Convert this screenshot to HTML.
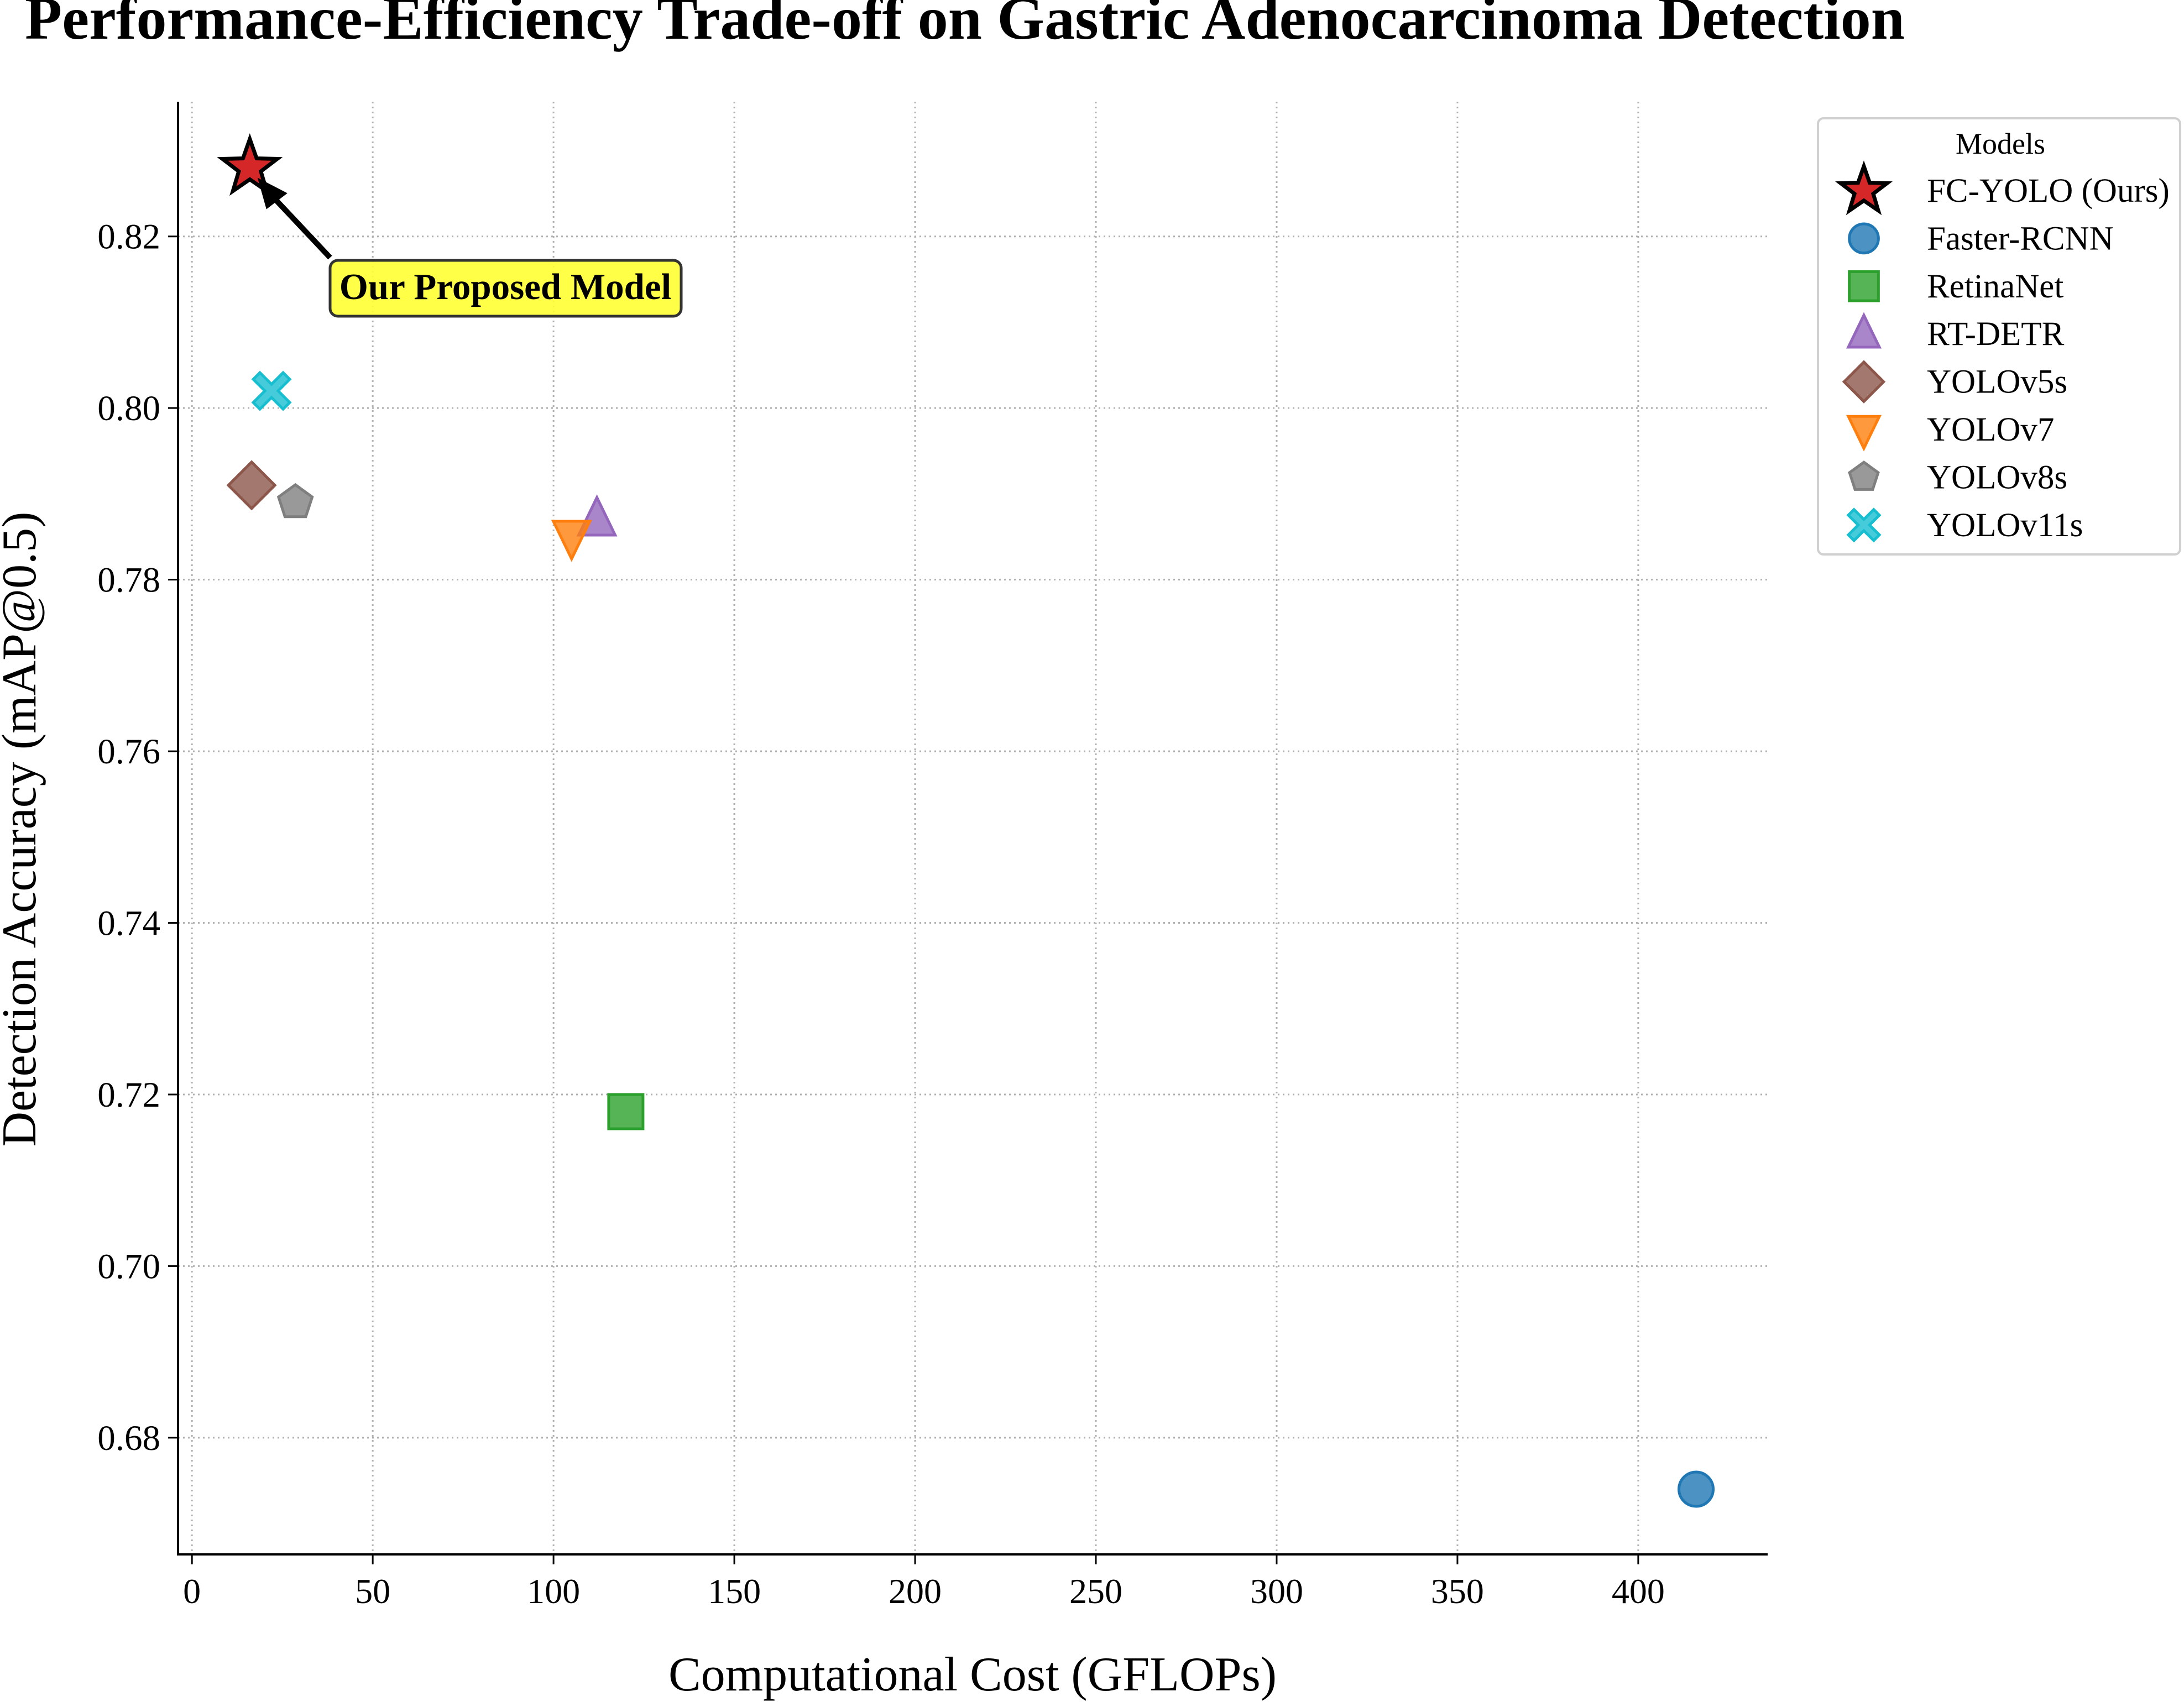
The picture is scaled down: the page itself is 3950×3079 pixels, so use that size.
<!DOCTYPE html>
<html><head><meta charset="utf-8"><style>html,body{margin:0;padding:0;background:#fff}svg{display:block}text{font-family:"Liberation Serif",serif}</style></head>
<body>
<svg id="chart" width="3950" height="3079" viewBox="0 0 3950 3079" xmlns="http://www.w3.org/2000/svg">
<text x="45" y="70" font-size="110" font-weight="bold">Performance-Efficiency Trade-off on Gastric Adenocarcinoma Detection</text>
<g id="grid"></g><g id="axes"></g><g id="marks"></g><g id="legend"></g>
</svg>
<script>
const models = ["FC-YOLO (Ours)","Faster-RCNN","RetinaNet","RT-DETR","YOLOv5s","YOLOv7","YOLOv8s","YOLOv11s"];
const gflops = [16, 416, 120, 112, 16.5, 105, 28.6, 22];
const map50 = [0.828, 0.674, 0.718, 0.787, 0.791, 0.785, 0.789, 0.802];
const shapes = ["star","circle","square","tri","diamond","tridown","pent","x"];
const colors = ["#d62728","#1f77b4","#2ca02c","#9467bd","#8c564b","#ff7f0e","#7f7f7f","#17becf"];
const xTicks = [0,50,100,150,200,250,300,350,400];
const yTicks = [0.68,0.70,0.72,0.74,0.76,0.78,0.80,0.82];

const NS="http://www.w3.org/2000/svg";
const L=322,R=3197,T=184,B=2812;
const xMin=-3.85,xMax=435.8,yMin=0.6664,yMax=0.8357;
const sx=v=>L+(v-xMin)/(xMax-xMin)*(R-L);
const sy=v=>B-(v-yMin)/(yMax-yMin)*(B-T);
function mk(tag,attrs,parent){const e=document.createElementNS(NS,tag);for(const k in attrs)e.setAttribute(k,attrs[k]);parent.appendChild(e);return e;}
const grid=document.getElementById('grid'),axes=document.getElementById('axes'),marks=document.getElementById('marks'),legend=document.getElementById('legend');

xTicks.forEach(t=>{
  const x=sx(t);
  const g=mk('line',{x1:x,x2:x,y1:T,y2:B,stroke:'#b0b0b0','stroke-width':3,'stroke-dasharray':'3,6'},grid);
  
  
  const tk=mk('line',{x1:x,x2:x,y1:B,y2:B+18,stroke:'#000','stroke-width':3},axes);
  
  
  const lb=mk('text',{x:x,y:B+88,'font-size':64,'text-anchor':'middle'},axes);
  lb.textContent=t;
  
  
});
yTicks.forEach(t=>{
  const y=sy(t);
  const g=mk('line',{x1:L,x2:R,y1:y,y2:y,stroke:'#b0b0b0','stroke-width':3,'stroke-dasharray':'3,6'},grid);
  
  
  const tk=mk('line',{x1:L-18,x2:L,y1:y,y2:y,stroke:'#000','stroke-width':3},axes);
  
  
  const lb=mk('text',{x:L-32,y:y+22,'font-size':65,'text-anchor':'end'},axes);
  lb.textContent=t.toFixed(2);
  
  
});
const sp1=mk('line',{x1:L,x2:L,y1:T,y2:B+2,stroke:'#000','stroke-width':4},axes);


const sp2=mk('line',{x1:L-2,x2:R,y1:B,y2:B,stroke:'#000','stroke-width':4},axes);


const xl=mk('text',{x:1759,y:3058,'font-size':88,'text-anchor':'middle'},axes);
xl.textContent='Computational Cost (GFLOPs)';


const yl=mk('text',{x:0,y:0,'font-size':88,'text-anchor':'middle',transform:'translate(64,1500) rotate(-90)'},axes);
yl.textContent='Detection Accuracy (mAP@0.5)';



function shape(kind,cx,cy,col,parent,s){
  s=s||1;let e;const st={fill:col,'fill-opacity':0.8,stroke:col,'stroke-width':5};
  const poly=pts=>mk('polygon',Object.assign({points:pts.map(p=>(cx+p[0]*s)+','+(cy+p[1]*s)).join(' ')},st),parent);
  if(kind==='star'){const p=[];for(let i=0;i<10;i++){const r=i%2?21:52,a=-Math.PI/2+i*Math.PI/5;p.push([r*Math.cos(a),r*Math.sin(a)]);}
    e=mk('polygon',{points:p.map(q=>(cx+q[0]*s)+','+(cy+q[1]*s)).join(' '),fill:col,stroke:'#000','stroke-width':7,'stroke-linejoin':'miter'},parent);}
  else if(kind==='circle')e=mk('circle',Object.assign({cx:cx,cy:cy,r:31*s},st),parent);
  else if(kind==='square')e=mk('rect',Object.assign({x:cx-31*s,y:cy-31*s,width:62*s,height:62*s},st),parent);
  else if(kind==='tri')e=poly([[0,-40],[33,28],[-33,28]]);
  else if(kind==='tridown')e=poly([[0,40],[33,-28],[-33,-28]]);
  else if(kind==='diamond')e=poly([[0,-42],[42,0],[0,42],[-42,0]]);
  else if(kind==='pent'){const p=[];for(let i=0;i<5;i++){const a=-Math.PI/2+i*2*Math.PI/5;p.push([32*Math.cos(a),32*Math.sin(a)]);}e=poly(p);}
  else if(kind==='x'){const a=12,b=33;e=poly([[-b,-b+a],[-b+a,-b],[0,-a],[b-a,-b],[b,-b+a],[a,0],[b,b-a],[b-a,b],[0,a],[-b+a,b],[-b,b-a],[-a,0]]);}
  return e;
}
models.forEach((m,i)=>{
  const e=shape(shapes[i],sx(gflops[i]),sy(map50[i]),colors[i],marks);
  
  
});
const sxp=sx(gflops[0]),syp=sy(map50[0]);
const ar=mk('line',{x1:597,y1:466,x2:sxp+30,y2:syp+40,stroke:'#000','stroke-width':10},marks);


const ah=mk('polygon',{points:(sxp+14)+','+(syp+18)+' '+(sxp+30)+','+(syp+75)+' '+(sxp+68)+','+(syp+46),fill:'#000'},marks);


const ab=mk('rect',{x:597,y:471,width:635,height:101,rx:14,fill:'#ffff33','fill-opacity':0.9,stroke:'#333','stroke-width':5},marks);


const at=mk('text',{x:914,y:541,'font-size':67,'font-weight':'bold','text-anchor':'middle'},marks);
at.textContent='Our Proposed Model';


const lbx=mk('rect',{x:3288,y:214,width:655,height:789,rx:10,fill:'#fff',stroke:'#d0d0d0','stroke-width':4},legend);


const lt=mk('text',{x:3618,y:278,'font-size':54,'text-anchor':'middle'},legend);
lt.textContent='Models';


models.forEach((m,i)=>{
  const y=345+i*86.4;
  const g=mk('g',{},legend);
  
  
  shape(shapes[i],3371,y,colors[i],g,0.85);
  const t=mk('text',{x:3485,y:y+20,'font-size':61},g);
  t.textContent=m;
});
</script>
</body></html>
